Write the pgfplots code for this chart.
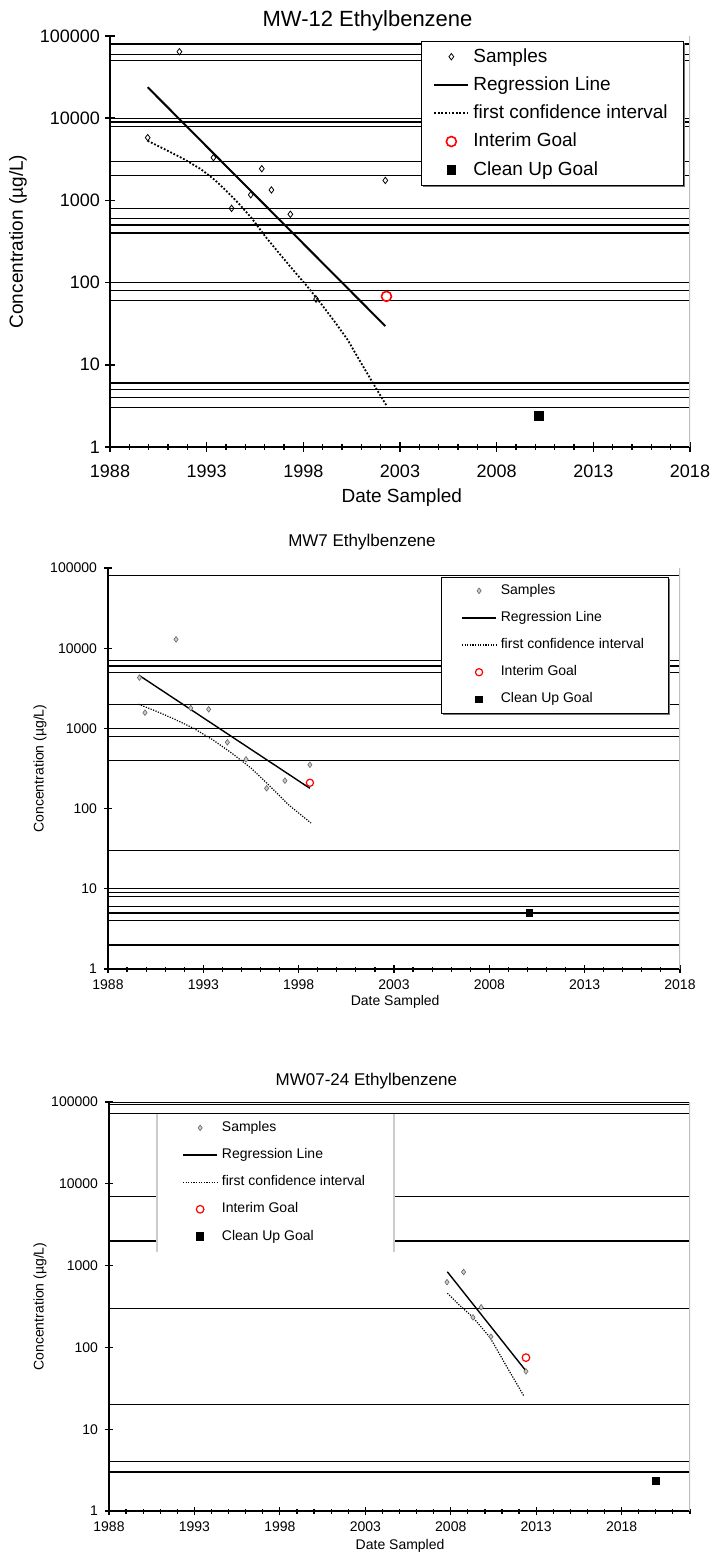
\documentclass[border=0pt]{standalone}
\usepackage{pgfplots}
\pgfplotsset{compat=1.18}
\usepackage{fontspec}
\setmainfont{Liberation Sans}
\begin{document}
\begin{tikzpicture}
\path[use as bounding box] (0,0) rectangle (357pt,-778.5pt);
% ---------------- Chart 1 ----------------
\begin{axis}[ymode=log, xmin=1988, xmax=2018, ymin=1, ymax=100000,
  scale only axis, anchor=south west, at={(55pt,-223.5pt)}, width=290pt, height=205.5pt,
  axis x line*=bottom, axis y line*=left,
  axis line style={line width=0.8pt, black},
  ytick={1,10,100,1000,10000,100000},
  yticklabels={1,10,100,1000,10000,100000},
  yminorticks=false,
  xtick={1988,1993,1998,2003,2008,2013,2018},
  xticklabels={1988,1993,1998,2003,2008,2013,2018},
  minor xtick={1988,...,2018},
  tick align=center, major tick length=5pt, minor tick length=3pt,
  every tick/.style={black, line width=0.7pt},
  tick label style={font=\fontsize{9}{10}\selectfont},
  xticklabel style={yshift=-3pt},
  yticklabel style={xshift=1pt},
  title={MW-12 Ethylbenzene},
  title style={at={(axis description cs:0.444,1.039)}, anchor=center, yshift=-6.5pt, font=\fontsize{11}{13}\selectfont},
  xlabel={Date Sampled},
  xlabel style={at={(axis description cs:0.503,-0.124)}, anchor=center, font=\fontsize{9.5}{11}\selectfont},
  ylabel={Concentration (µg/L)},
  ylabel style={at={(axis description cs:-0.1586,0.5)}, anchor=center, font=\fontsize{9.5}{11}\selectfont},
  legend cell align=left,
  legend style={at={(axis description cs:0.536,0.988)}, anchor=north west, draw=black, fill=white,
    inner xsep=6pt, inner ysep=1.5pt, row sep=1.75pt, font=\fontsize{9.5}{11}\selectfont},
]
\pgfplotsinvokeforeach{80000,60000,50000,10000,9000,8000,3000,2000,800,600,500,400,100,80,60,6,5,4,3}{
  \addplot[black, line width=0.65pt, forget plot] coordinates {(1988,#1) (2018,#1)};
}
\draw[black!25, line width=0.8pt] (rel axis cs:1,0) -- (rel axis cs:1,1);
\fill[black!55] (axis description cs:0.5397,0.983) rectangle (axis description cs:0.9914,0.6326);
\addplot[only marks, mark=diamond, mark size=1.6pt, mark options={black, line width=0.4pt, solid}]
  coordinates {(1989.95,5800) (1991.59,64400) (1993.35,3310) (1994.29,800) (1995.28,1170) (1995.85,2430) (1996.35,1340) (1997.33,678) (1998.66,63) (2002.24,1750)};
\addlegendentry{Samples}
\addplot[black, line width=1pt, mark=none]
  coordinates {(1989.95,23800) (2002.24,29.6)};
\addlegendentry{Regression Line}
\addplot[black, line width=0.9pt, dash pattern=on 0.9pt off 0.9pt, mark=none]
  coordinates {(1989.95,5300) (1991.0,4000) (1991.8,3200) (1992.7,2400) (1993.45,1750) (1994.1,1250) (1994.65,920) (1995.3,620) (1996.05,360) (1996.8,220) (1997.5,140) (1998.2,90) (1998.9,56) (1999.6,34) (2000.3,20) (2000.8,12.5) (2001.3,7.9) (2001.8,5) (2002.3,3.2)};
\addlegendentry{first confidence interval}
\addplot[only marks, mark=o, mark size=2.5pt, red, mark options={line width=0.8pt}]
  coordinates {(2002.3,68)};
\addlegendentry{Interim Goal}
\addplot[only marks, mark=square*, mark size=2.2pt, black]
  coordinates {(2010.2,2.4)};
\addlegendentry{Clean Up Goal}
\end{axis}
% ---------------- Chart 2 ----------------
\begin{axis}[ymode=log, xmin=1988, xmax=2018, ymin=1, ymax=100000,
  scale only axis, anchor=south west, at={(54pt,-484.5pt)}, width=286pt, height=200.5pt,
  axis x line*=bottom, axis y line*=left,
  axis line style={line width=0.8pt, black},
  ytick={1,10,100,1000,10000,100000},
  yticklabels={1,10,100,1000,10000,100000},
  yminorticks=false,
  xtick={1988,1993,1998,2003,2008,2013,2018},
  xticklabels={1988,1993,1998,2003,2008,2013,2018},
  minor xtick={1988,...,2018},
  tick align=center, major tick length=4pt, minor tick length=2.5pt,
  every tick/.style={black, line width=0.6pt},
  tick label style={font=\fontsize{7}{8}\selectfont},
  title={MW7 Ethylbenzene},
  title style={at={(axis description cs:0.444,1.067)}, anchor=center, yshift=-6.5pt, font=\fontsize{8.5}{10}\selectfont},
  xlabel={Date Sampled},
  xlabel style={at={(axis description cs:0.502,-0.0823)}, anchor=center, font=\fontsize{7}{8}\selectfont},
  ylabel={Concentration (µg/L)},
  ylabel style={at={(axis description cs:-0.119,0.5)}, anchor=center, font=\fontsize{7}{8}\selectfont},
  legend cell align=left,
  legend style={at={(axis description cs:0.582,0.978)}, anchor=north west, draw=black, fill=white,
    inner xsep=10pt, inner ysep=1.5pt, row sep=3pt, font=\fontsize{7}{8}\selectfont},
]
\pgfplotsinvokeforeach{80000,7000,6000,5000,2000,1000,800,400,30,10,9,8,6,5,4,2}{
  \addplot[black, line width=0.65pt, forget plot] coordinates {(1988,#1) (2018,#1)};
}
\draw[black!25, line width=0.8pt] (rel axis cs:1,0) -- (rel axis cs:1,1);
\fill[black!55] (axis description cs:0.5857,0.9726) rectangle (axis description cs:0.9825,0.6334);
\addplot[only marks, mark=diamond*, mark size=1.4pt, mark options={draw=gray!80!black, fill=gray!40, line width=0.3pt, solid}]
  coordinates {(1989.65,4300) (1989.94,1570) (1991.57,12900) (1992.34,1790) (1993.28,1730) (1994.26,671) (1995.24,412) (1996.32,179) (1997.28,223) (1998.59,352)};
\addlegendentry{Samples}
\addplot[black, line width=0.7pt, mark=none]
  coordinates {(1989.63,4590) (1998.59,179)};
\addlegendentry{Regression Line}
\addplot[black, line width=0.6pt, dash pattern=on 0.6pt off 0.7pt, mark=none]
  coordinates {(1989.6,2000) (1990.5,1650) (1991.5,1300) (1992.5,1000) (1993.5,720) (1994.5,490) (1995.5,320) (1996.5,190) (1997.5,110) (1998.65,66)};
\addlegendentry{first confidence interval}
\addplot[only marks, mark=o, mark size=1.8pt, red, mark options={line width=0.6pt}]
  coordinates {(1998.59,210)};
\addlegendentry{Interim Goal}
\addplot[only marks, mark=square*, mark size=1.7pt, black]
  coordinates {(2010.1,5)};
\addlegendentry{Clean Up Goal}
\end{axis}
% ---------------- Chart 3 ----------------
\begin{axis}[ymode=log, xmin=1988, xmax=2022, ymin=1, ymax=100000,
  scale only axis, anchor=south west, at={(54.5pt,-755.5pt)}, width=290.5pt, height=204.5pt,
  axis x line*=bottom, axis y line*=left,
  axis line style={line width=0.8pt, black},
  ytick={1,10,100,1000,10000,100000},
  yticklabels={1,10,100,1000,10000,100000},
  yminorticks=false,
  xtick={1988,1993,1998,2003,2008,2013,2018},
  xticklabels={1988,1993,1998,2003,2008,2013,2018},
  minor xtick={1988,...,2022},
  tick align=center, major tick length=4pt, minor tick length=2.5pt,
  every tick/.style={black, line width=0.6pt},
  tick label style={font=\fontsize{7}{8}\selectfont},
  title={MW07-24 Ethylbenzene},
  title style={at={(axis description cs:0.443,1.054)}, anchor=center, yshift=-6.5pt, font=\fontsize{8.5}{10}\selectfont},
  xlabel={Date Sampled},
  xlabel style={at={(axis description cs:0.501,-0.0856)}, anchor=center, font=\fontsize{7}{8}\selectfont},
  ylabel={Concentration (µg/L)},
  ylabel style={at={(axis description cs:-0.1188,0.5)}, anchor=center, font=\fontsize{7}{8}\selectfont},
  legend cell align=left,
  legend style={at={(axis description cs:0.0843,0.971)}, anchor=north west, draw=none, fill=white,
    inner xsep=12pt, inner ysep=1.5pt, row sep=3pt, font=\fontsize{7}{8}\selectfont},
]
\pgfplotsinvokeforeach{100000,94000,72000,7000,2000,300,20,4,3}{
  \addplot[black, line width=0.65pt, forget plot] coordinates {(1988,#1) (2022,#1)};
}
\draw[black!25, line width=0.8pt] (rel axis cs:1,0) -- (rel axis cs:1,1);
\draw[black!20, line width=0.8pt] (axis description cs:0.0826,0.971) -- (axis description cs:0.0826,0.633);
\draw[black!20, line width=0.8pt] (axis description cs:0.4905,0.971) -- (axis description cs:0.4905,0.633);
\addplot[only marks, mark=diamond*, mark size=1.4pt, mark options={draw=gray!80!black, fill=gray!40, line width=0.3pt, solid}]
  coordinates {(2007.78,628) (2008.75,835) (2009.3,233) (2009.78,310) (2010.35,135) (2012.4,51)};
\addlegendentry{Samples}
\addplot[black, line width=0.7pt, mark=none]
  coordinates {(2007.8,840) (2012.42,51)};
\addlegendentry{Regression Line}
\addplot[black, line width=0.6pt, dash pattern=on 0.6pt off 0.7pt, mark=none]
  coordinates {(2007.8,460) (2008.5,330) (2009.3,233) (2010.3,132) (2011.3,57) (2012.3,25)};
\addlegendentry{first confidence interval}
\addplot[only marks, mark=o, mark size=1.9pt, red, mark options={line width=0.6pt}]
  coordinates {(2012.4,75)};
\addlegendentry{Interim Goal}
\addplot[only marks, mark=square*, mark size=1.8pt, black]
  coordinates {(2020,2.35)};
\addlegendentry{Clean Up Goal}
\end{axis}
\end{tikzpicture}
\end{document}
